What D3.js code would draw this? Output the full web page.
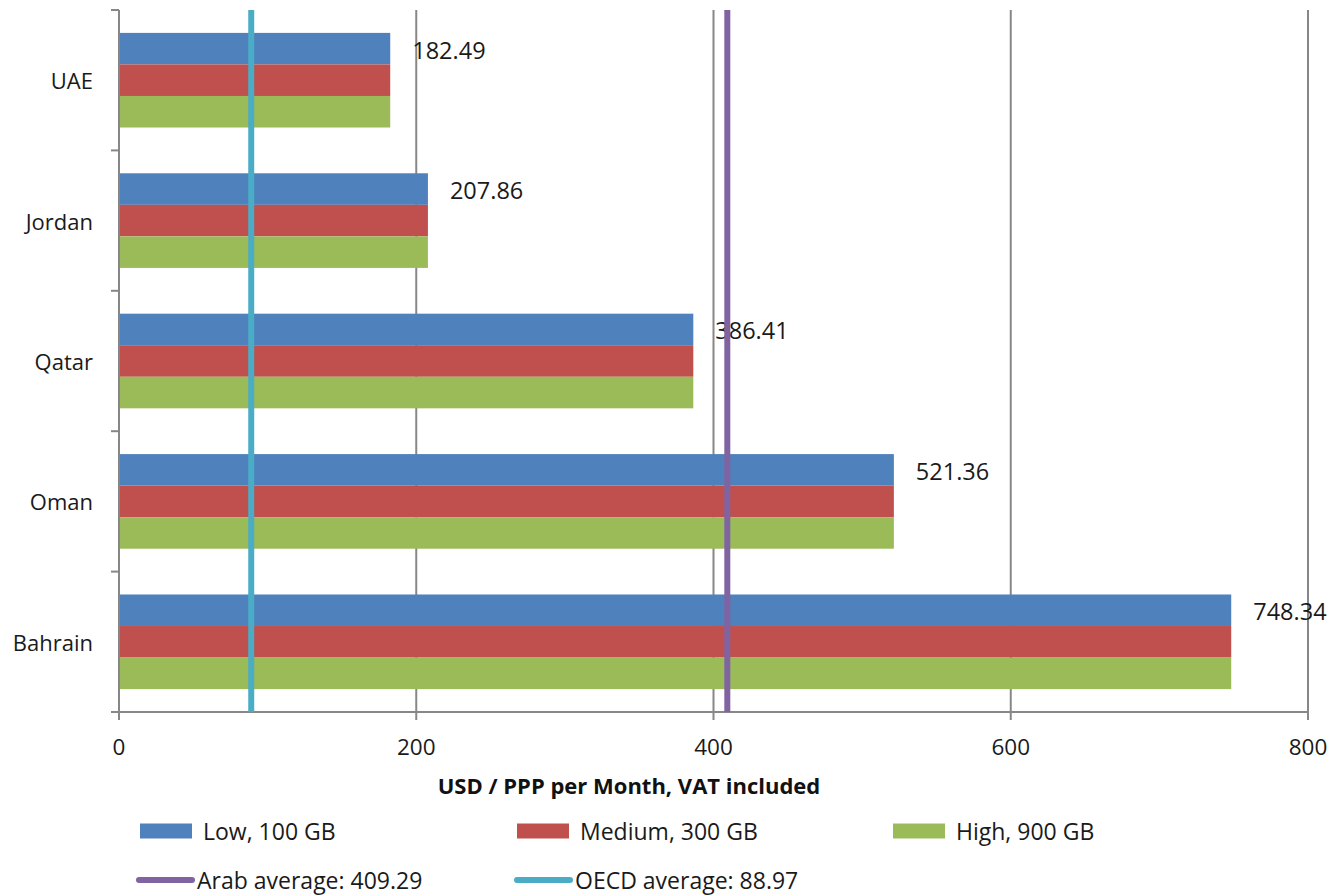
<!DOCTYPE html>
<html>
<head>
<meta charset="utf-8">
<script src="https://cdn.jsdelivr.net/npm/d3@7"></script>
<style>
  html, body { margin: 0; padding: 0; background: #fff; }
  svg { display: block; font-family: "Open Sans", "DejaVu Sans", sans-serif; }
</style>
</head>
<body>
<svg id="chart" width="1332" height="895"></svg>
<script>
const categories = ["UAE", "Jordan", "Qatar", "Oman", "Bahrain"];
const seriesNames = ["Low, 100 GB", "Medium, 300 GB", "High, 900 GB"];
const lowValues = [182.49, 207.86, 386.41, 521.36, 748.34];
const mediumValues = [182.49, 207.86, 386.41, 521.36, 748.34];
const highValues = [182.49, 207.86, 386.41, 521.36, 748.34];
const xTicks = [0, 200, 400, 600, 800];
const avgNames = ["Arab average: 409.29", "OECD average: 88.97"];
const avgValues = [409.29, 88.97];

(function () {
const colors = ["#4F81BD", "#C0504D", "#9BBB59"];
const avgColors = ["#8064A2", "#4BACC6"];
const gridColor = "#878787";

const svg = d3.select("#chart");
const pLeft = 119, pRight = 1308, pTop = 10, pBottom = 712;

const x = d3.scaleLinear().domain([0, 800]).range([pLeft, pRight]);
const y = d3.scaleBand().domain(categories).range([pTop, pBottom])
  .paddingInner(0.326).paddingOuter(0.163);
const ySub = d3.scaleBand().domain(seriesNames).range([0, y.bandwidth()]);

const seriesValues = [lowValues, mediumValues, highValues];

// gridlines
svg.append("g").selectAll("line").data(xTicks.filter(d => d > 0)).join("line")
  .attr("x1", d => x(d)).attr("x2", d => x(d))
  .attr("y1", pTop).attr("y2", pBottom)
  .attr("stroke", gridColor).attr("stroke-width", 2);

// bars
const groups = svg.append("g").selectAll("g").data(categories).join("g")
  .attr("transform", c => `translate(0,${y(c)})`);
groups.each(function(c, i) {
  d3.select(this).selectAll("rect").data(seriesNames).join("rect")
    .attr("x", x(0))
    .attr("y", s => ySub(s))
    .attr("width", (s, j) => x(seriesValues[j][i]) - x(0))
    .attr("height", ySub.bandwidth())
    .attr("fill", (s, j) => colors[j]);
});

// value labels
svg.append("g").selectAll("text").data(categories).join("text")
  .attr("x", (c, i) => x(lowValues[i]) + 22)
  .attr("y", c => y(c) + ySub(seriesNames[0]) + ySub.bandwidth() / 2 + 1)
  .attr("dominant-baseline", "central")
  .attr("font-size", 23.5)
  .attr("fill", "#1a1a1a")
  .text((c, i) => lowValues[i].toFixed(2));

// left axis line & ticks
const axisG = svg.append("g");
axisG.append("line").attr("x1", pLeft).attr("x2", pLeft).attr("y1", pTop).attr("y2", pBottom + 1)
  .attr("stroke", gridColor).attr("stroke-width", 2);
const bounds = categories.map((c, i) => pTop + i * y.step());
bounds.push(pBottom);
axisG.selectAll("line.yt").data(bounds).join("line").attr("class", "yt")
  .attr("x1", pLeft - 8).attr("x2", pLeft).attr("y1", d => d).attr("y2", d => d)
  .attr("stroke", gridColor).attr("stroke-width", 2);

// bottom axis
axisG.append("line").attr("x1", pLeft - 8).attr("x2", pRight + 1).attr("y1", pBottom).attr("y2", pBottom)
  .attr("stroke", gridColor).attr("stroke-width", 2);
axisG.selectAll("line.xt").data(xTicks).join("line").attr("class", "xt")
  .attr("x1", d => x(d)).attr("x2", d => x(d)).attr("y1", pBottom).attr("y2", pBottom + 8)
  .attr("stroke", gridColor).attr("stroke-width", 2);
axisG.selectAll("text.xl").data(xTicks).join("text").attr("class", "xl")
  .attr("x", d => x(d)).attr("y", 746)
  .attr("text-anchor", "middle").attr("dominant-baseline", "central")
  .attr("font-size", 22.5).attr("fill", "#1a1a1a")
  .text(d => d);

// category labels
axisG.selectAll("text.cl").data(categories).join("text").attr("class", "cl")
  .attr("x", 93).attr("y", c => y(c) + y.bandwidth() / 2)
  .attr("text-anchor", "end").attr("dominant-baseline", "central")
  .attr("font-size", 22).attr("fill", "#1a1a1a")
  .text(c => c);

// average lines
svg.append("g").selectAll("line").data(avgValues).join("line")
  .attr("x1", d => x(d)).attr("x2", d => x(d))
  .attr("y1", pTop).attr("y2", pBottom)
  .attr("stroke", (d, i) => avgColors[i]).attr("stroke-width", 6);

// axis title
svg.append("text").attr("x", 629).attr("y", 785)
  .attr("text-anchor", "middle").attr("dominant-baseline", "central")
  .attr("font-size", 22).attr("font-weight", "bold").attr("fill", "#111")
  .text("USD / PPP per Month, VAT included");

// legend row 1
const legX = [140, 517, 893];
const leg1 = svg.append("g").selectAll("g").data(seriesNames).join("g")
  .attr("transform", (d, i) => `translate(${legX[i]},831)`);
leg1.append("rect").attr("x", 0).attr("y", -7.5).attr("width", 52).attr("height", 15)
  .attr("fill", (d, i) => colors[i]);
leg1.append("text").attr("x", 63).attr("y", 0).attr("dominant-baseline", "central")
  .attr("font-size", 23).attr("fill", "#1a1a1a").text(d => d);

// legend row 2
const leg2X = [137, 515];
const leg2 = svg.append("g").selectAll("g").data(avgNames).join("g")
  .attr("transform", (d, i) => `translate(${leg2X[i]},880)`);
leg2.append("line").attr("x1", 2).attr("x2", 55).attr("y1", 0).attr("y2", 0)
  .attr("stroke", (d, i) => avgColors[i]).attr("stroke-width", 6).attr("stroke-linecap", "round");
leg2.append("text").attr("x", 60).attr("y", 0).attr("dominant-baseline", "central")
  .attr("font-size", 23).attr("fill", "#1a1a1a").text(d => d);
})();
</script>
</body>
</html>
